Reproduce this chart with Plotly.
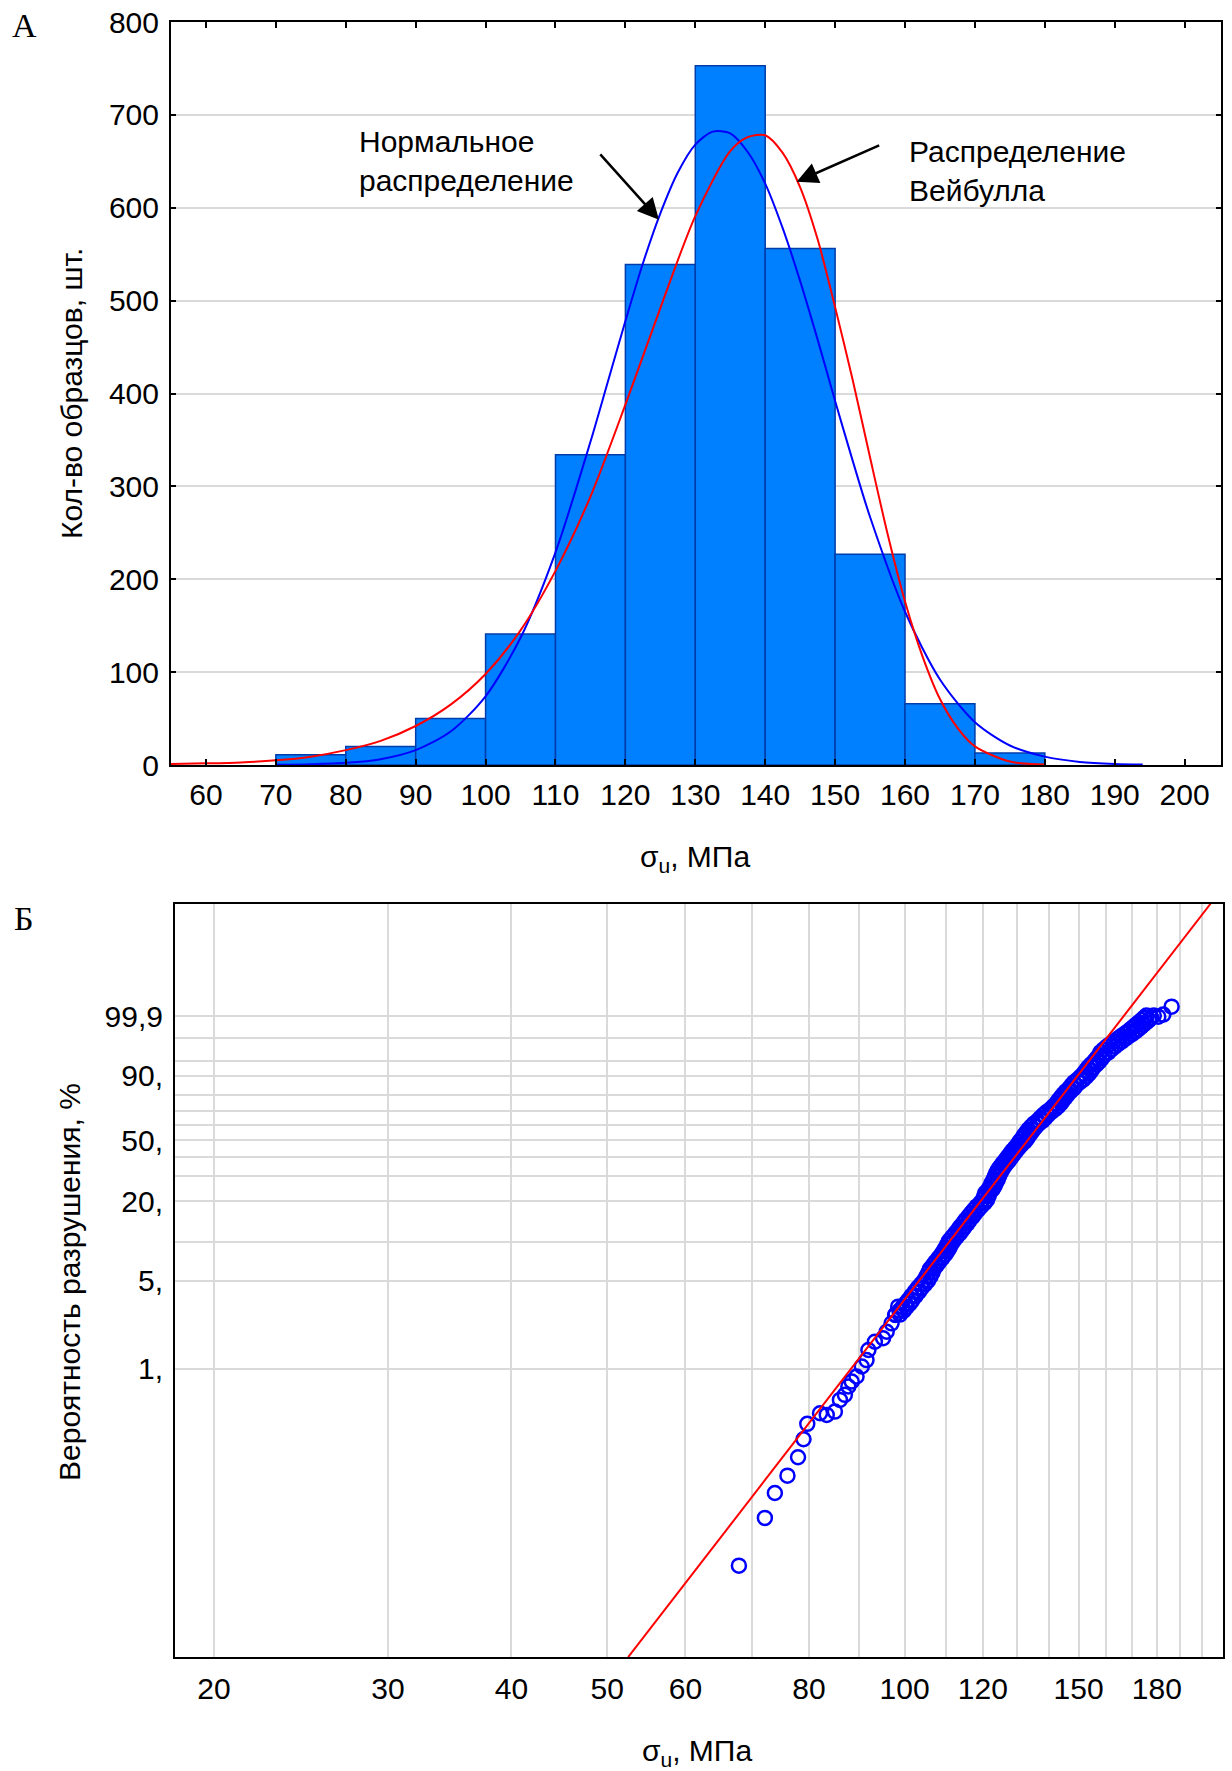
import numpy as np
import plotly.graph_objects as go

# ---------------- DATA ----------------
# Panel A: histogram of strength, bins of 10 MPa
bin_left = [70, 80, 90, 100, 110, 120, 130, 140, 150, 160, 170]
bin_width = 10
bin_counts = [11, 20, 50, 141, 334, 539, 753, 556, 227, 66, 13]

x_ticks_a = [60, 70, 80, 90, 100, 110, 120, 130, 140, 150, 160, 170, 180, 190, 200]
y_ticks_a = [0, 100, 200, 300, 400, 500, 600, 700, 800]

# Normal distribution curve (blue)
normal_x = [70, 75, 80, 85, 90, 95, 100, 105, 110, 115, 117.5, 120, 122.5, 125, 127.5,
            130, 132.5, 135, 137.5, 140, 142.5, 145, 147.5, 150, 152.5, 155, 160, 165,
            170, 175, 180, 185, 190, 194]
normal_y = [0.2, 0.8, 2.3, 6.3, 16, 36, 74, 137, 229, 348, 413, 478, 540, 594, 638,
            668, 682, 680, 660, 626, 578, 521, 458, 392, 328, 267, 165, 92,
            46, 21, 9, 3.3, 1.1, 0.5]

# Weibull distribution curve (red)
weibull_x = [55, 60, 65, 70, 75, 80, 85, 90, 95, 100, 105, 110, 115, 120, 125, 130,
             135, 137.5, 140, 142.5, 145, 147.5, 150, 152.5, 155, 157.5, 160, 162.5,
             165, 167.5, 170, 175, 180]
weibull_y = [1.2, 1.8, 2.8, 5, 9, 16, 26, 42, 65, 98, 145, 209, 289, 388, 492, 591,
             661, 676, 678, 659, 622, 566, 493, 415, 331, 249, 176, 117,
             71, 40, 20, 3.7, 0.6]

# Panel B: Weibull probability plot
x_ticks_b = [20, 30, 40, 50, 60, 80, 100, 120, 150, 180]
x_minor_b = [70, 90, 110, 130, 140, 160, 170, 190, 200]
p_ticks_b = [99.9, 90, 50, 20, 5, 1]
p_ticklabels_b = ["99,9", "90,", "50,", "20,", "5,", "1,"]
p_minor_b = [99, 95, 80, 70, 60, 40, 30, 10]

# lower tail points (stress MPa, failure probability %)
tail_stress = [67.96, 72.2, 73.9, 76.1, 78.0, 79.0, 79.7, 82.1, 83.4, 85.0, 86.0, 87.0,
               87.7, 88.4, 89.4, 90.5, 91.5, 91.9, 93.3, 95.1, 95.9, 97.0, 97.8, 98.5]
tail_prob = [0.026, 0.063, 0.10, 0.138, 0.194, 0.271, 0.360, 0.438, 0.425, 0.452, 0.561,
             0.616, 0.719, 0.788, 0.865, 1.04, 1.17, 1.41, 1.64, 1.75, 1.97, 2.30, 2.68, 3.12]

# dense band of points: probability level, band centre stress, band half-spread
band_prob = [2.7, 2.9, 3.1, 3.3, 3.5, 3.8, 4.1, 4.4, 4.7, 5.0, 5.4, 5.8, 6.2, 6.6, 7.0,
             7.5, 8.0, 8.5, 9.0, 9.6, 10.2, 10.9, 11.6, 12.3, 13.0, 13.8, 14.6, 15.5,
             16.4, 17.4, 18.4, 19.5, 20.6, 21.8, 23.0, 24.3, 25.6, 27.0, 28.4, 29.9,
             31.4, 33.0, 34.6, 36.3, 38.0, 39.8, 41.6, 43.4, 45.3, 47.2, 49.1, 51.0,
             53.0, 55.0, 57.0, 59.0, 61.0, 63.0, 65.0, 67.0, 69.0, 71.0, 72.9, 74.8,
             76.7, 78.5, 80.3, 82.0, 83.7, 85.3, 86.8, 88.2, 89.5, 90.8, 92.0, 93.1,
             94.1, 95.0, 95.8, 96.5, 97.1, 97.6, 98.05, 98.4, 98.7, 98.95, 99.15,
             99.32, 99.46, 99.57, 99.66, 99.73, 99.79, 99.84, 99.88, 99.91]
band_center = [98.4, 99.3, 100.0, 100.7, 101.3, 102.1, 102.9, 103.6, 104.4, 105.1, 105.7,
               106.2, 106.6, 107.3, 107.9, 108.7, 109.4, 110.0, 110.5, 111.0, 111.5,
               112.3, 113.1, 113.8, 114.4, 115.2, 115.8, 116.6, 117.3, 118.1, 118.9,
               119.9, 120.6, 121.0, 121.3, 122.1, 122.7, 123.1, 123.6, 124.0, 124.4,
               124.9, 125.5, 126.2, 127.0, 127.7, 128.4, 129.1, 129.9, 130.7, 131.5,
               132.2, 132.8, 133.5, 134.2, 135.0, 135.9, 137.1, 138.0, 138.9, 140.0,
               141.3, 142.3, 143.2, 143.9, 144.7, 145.5, 146.4, 147.5, 148.3, 149.3,
               150.6, 151.7, 152.7, 153.5, 154.3, 155.4, 156.5, 157.4, 158.3, 159.3,
               160.4, 161.7, 163.0, 164.4, 165.8, 167.1, 168.5, 169.8, 170.9, 172.0,
               173.0, 174.1, 175.2, 176.2, 177.2]
band_spread = [0.5] * 20 + [0.6] * 30 + [0.8] * 20 + [1.0] * 10 + [1.5] * 16

# upper isolated points
top_stress = [180.6, 182.7, 186.3]
top_prob = [99.895, 99.92, 99.974]

# fitted Weibull line (end points, y in ln(-ln(1-P)) units)
fit_stress = [52.5, 204.0]
fit_weibull_y = [-9.95, 4.02]


def weib(p_percent):
    p = np.asarray(p_percent, dtype=float) / 100.0
    return np.log(-np.log(1.0 - p))


# ---------------- FIGURE ----------------
W, H = 1232, 1771


def px(x):
    return x / W


def py(y):
    return 1 - y / H


FONT = "Liberation Sans, Arial, sans-serif"
GRID = "rgb(218,218,218)"
TF = 30

fig = go.Figure()

fig.add_trace(go.Bar(
    x=bin_left, y=bin_counts, width=bin_width, offset=0,
    marker=dict(color="rgb(0,128,255)", line=dict(color="rgb(0,60,170)", width=1.5)),
    xaxis="x", yaxis="y", hoverinfo="skip"))
fig.add_trace(go.Scatter(
    x=normal_x, y=normal_y, mode="lines",
    line=dict(color="rgb(0,0,255)", width=2, shape="spline", smoothing=0.8),
    xaxis="x", yaxis="y"))
fig.add_trace(go.Scatter(
    x=weibull_x, y=weibull_y, mode="lines",
    line=dict(color="rgb(255,0,0)", width=2, shape="spline", smoothing=0.8),
    xaxis="x", yaxis="y"))

bc = np.array(band_center)
bs = np.array(band_spread)
all_stress = np.concatenate([tail_stress, bc - bs, bc + bs, top_stress])
all_prob = np.concatenate([tail_prob, band_prob, band_prob, top_prob])
fig.add_trace(go.Scatter(
    x=all_stress, y=weib(all_prob), mode="markers",
    marker=dict(symbol="circle-open", size=14, color="rgb(0,0,255)", line=dict(width=2.5)),
    xaxis="x2", yaxis="y2"))
fig.add_trace(go.Scatter(
    x=fit_stress, y=fit_weibull_y, mode="lines",
    line=dict(color="rgb(255,0,0)", width=2),
    xaxis="x2", yaxis="y2"))

axis_common = dict(showline=True, linecolor="black", linewidth=2, zeroline=False,
                   automargin=False,
                   tickfont=dict(family=FONT, size=TF, color="black"))

fig.update_layout(
    width=W, height=H,
    margin=dict(l=0, r=0, t=0, b=0, autoexpand=False),
    paper_bgcolor="white", plot_bgcolor="white",
    showlegend=False,
    font=dict(family=FONT, color="black"),
    xaxis=dict(domain=[px(171), px(1221)], anchor="y", range=[55, 205.2],
               tickmode="array", tickvals=x_ticks_a, ticks="inside", ticklen=6,
               tickwidth=1.5, tickcolor="black", mirror="ticks", showgrid=False,
               ticklabelstandoff=2, **axis_common),
    yaxis=dict(domain=[py(765), py(22)], anchor="x", range=[0, 800],
               tickmode="array", tickvals=y_ticks_a, ticks="inside", ticklen=5,
               tickwidth=1.5, tickcolor="black", mirror="ticks", showgrid=True,
               gridcolor=GRID, gridwidth=1.5, ticklabelstandoff=4, **axis_common),
    xaxis2=dict(domain=[px(175), px(1223)], anchor="y2", type="log",
                range=[np.log10(18.26), np.log10(210)],
                tickmode="array", tickvals=x_ticks_b, ticktext=[str(v) for v in x_ticks_b],
                ticks="", mirror=True, showgrid=True, gridcolor=GRID, gridwidth=1.5,
                minor=dict(tickmode="array", tickvals=x_minor_b, showgrid=True,
                           gridcolor=GRID, gridwidth=1.5, ticks=""),
                ticklabelstandoff=4, **axis_common),
    yaxis2=dict(domain=[py(1657), py(904)], anchor="x2", range=[-9.948, 4.015],
                tickmode="array", tickvals=list(weib(p_ticks_b)), ticktext=p_ticklabels_b,
                ticks="", mirror=True, showgrid=True, gridcolor=GRID, gridwidth=1.5,
                minor=dict(tickmode="array", tickvals=list(weib(p_minor_b)), showgrid=True,
                           gridcolor=GRID, gridwidth=1.5, ticks=""),
                ticklabelstandoff=4, **axis_common),
)

ann = []
txt = dict(family=FONT, size=TF, color="black")
serif = dict(family="Liberation Serif, Times New Roman, serif", size=34, color="black")
# panel letters
ann.append(dict(text="А", x=px(24), y=py(26), xref="paper", yref="paper", showarrow=False,
                xanchor="center", yanchor="middle", font=serif))
ann.append(dict(text="Б", x=px(24), y=py(918), xref="paper", yref="paper", showarrow=False,
                xanchor="center", yanchor="middle", font=serif))
# axis titles
ann.append(dict(text="Кол-во образцов, шт.", x=px(71), y=py(394), xref="paper", yref="paper",
                showarrow=False, textangle=-90, xanchor="center", yanchor="middle", font=txt))
ann.append(dict(text="σ<sub>u</sub>, МПа", x=px(695), y=py(858), xref="paper", yref="paper",
                showarrow=False, xanchor="center", yanchor="middle", font=txt))
ann.append(dict(text="Вероятность разрушения, %", x=px(69), y=py(1282), xref="paper", yref="paper",
                showarrow=False, textangle=-90, xanchor="center", yanchor="middle", font=txt))
ann.append(dict(text="σ<sub>u</sub>, МПа", x=px(697), y=py(1752), xref="paper", yref="paper",
                showarrow=False, xanchor="center", yanchor="middle", font=txt))
# curve labels
for t, yy in [("Нормальное", 142), ("распределение", 181)]:
    ann.append(dict(text=t, x=px(357), y=py(yy), xref="paper", yref="paper", showarrow=False,
                    xanchor="left", yanchor="middle", font=txt))
for t, yy in [("Распределение", 152), ("Вейбулла", 190)]:
    ann.append(dict(text=t, x=px(907), y=py(yy), xref="paper", yref="paper", showarrow=False,
                    xanchor="left", yanchor="middle", font=txt))
# arrows
ann.append(dict(text="", x=124.8, y=587, xref="x", yref="y", ax=-60, ay=-67,
                showarrow=True, arrowhead=2, arrowsize=1.7, arrowwidth=2.5, arrowcolor="black",
                standoff=0))
ann.append(dict(text="", x=144.5, y=628, xref="x", yref="y", ax=84, ay=-37,
                showarrow=True, arrowhead=2, arrowsize=1.7, arrowwidth=2.5, arrowcolor="black",
                standoff=0))
fig.update_layout(annotations=ann)

fig.write_html("out.html")
